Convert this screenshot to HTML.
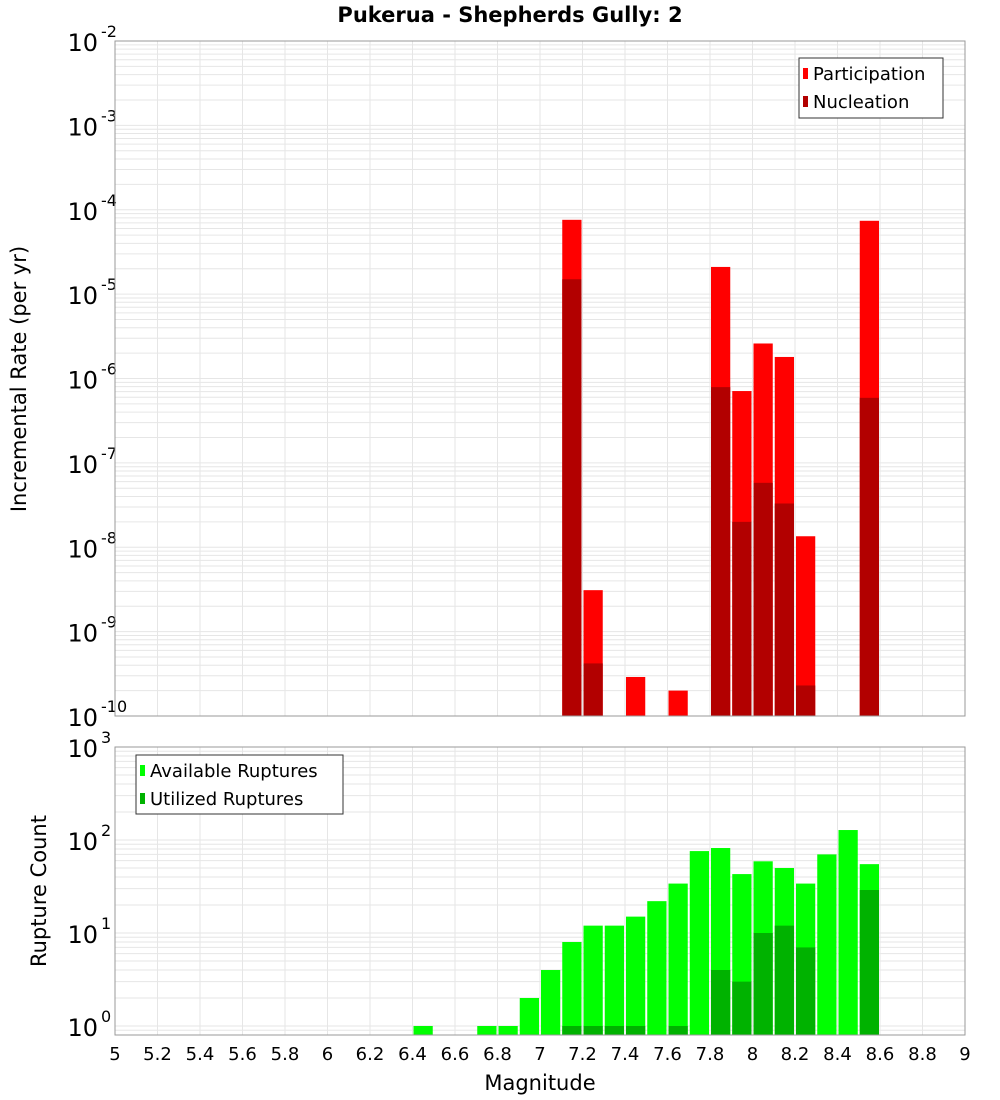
<!DOCTYPE html>
<html><head><meta charset="utf-8"><style>
body{margin:0;background:#fff;}
svg{display:block;font-family:"Liberation Sans","DejaVu Sans",sans-serif;}
</style></head><body>
<svg id="chart" width="1000" height="1100" xmlns="http://www.w3.org/2000/svg">
<rect width="1000" height="1100" fill="#fff"/>
<text x="510" y="22" text-anchor="middle" font-size="21" font-weight="bold" font-family="DejaVu Sans, sans-serif">Pukerua - Shepherds Gully: 2</text>
<g id="top"></g><g id="bot"></g>
</svg>
<script>
const binStarts = [7.1,7.2,7.4,7.6,7.8,7.9,8.0,8.1,8.2,8.5];
const participation = [7.6e-5,3.1e-9,2.9e-10,2.0e-10,2.1e-5,7.1e-7,2.6e-6,1.8e-6,1.35e-8,7.4e-5];
const nucleation = [1.5e-5,4.2e-10,0,0,7.9e-7,2.0e-8,5.8e-8,3.3e-8,2.3e-10,5.9e-7];
const countBins = [6.4,6.7,6.8,6.9,7.0,7.1,7.2,7.3,7.4,7.5,7.6,7.7,7.8,7.9,8.0,8.1,8.2,8.3,8.4,8.5];
const available = [1,1,1,2,4,8,12,12,15,22,34,76,82,43,59,50,34,70,128,55];
const utilized = [0,0,0,0,0,1,1,1,1,0,1,0,4,3,10,12,7,0,0,29];
const xTicks = [5,5.2,5.4,5.6,5.8,6,6.2,6.4,6.6,6.8,7,7.2,7.4,7.6,7.8,8,8.2,8.4,8.6,8.8,9];
const topExps = [-10,-9,-8,-7,-6,-5,-4,-3,-2];
const botExps = [0,1,2,3];

const NS="http://www.w3.org/2000/svg";
const X0=115,X1=965;
const xs=m=>X0+(m-5)/4*(X1-X0);
const topY=v=>716-(Math.log10(v)+10)*84.375;
const botY=v=>1026-Math.log10(v)*93;
function mk(p,tag,at){const e=document.createElementNS(NS,tag);for(const k in at)e.setAttribute(k,at[k]);p.appendChild(e);return e;}
const svg=document.getElementById('chart');

function panel(g,yTop,yBot,yFn,lo,hi,exps){
  mk(g,'rect',{x:X0,y:yTop,width:X1-X0,height:yBot-yTop,fill:'#fff'});
  for(let d=lo;d<hi;d++)for(let k=1;k<10;k++){const y=yFn(k*Math.pow(10,d));if(y<yTop||y>yBot)continue;
    const l=mk(g,'line',{x1:X0,x2:X1,y1:y,y2:y,stroke:'#e6e6e6','stroke-width':1});
    
    }
  xTicks.forEach(t=>{const l=mk(g,'line',{x1:xs(t),x2:xs(t),y1:yTop,y2:yBot,stroke:'#e6e6e6','stroke-width':1});
    
    });
  exps.forEach(e=>{const y=yFn(Math.pow(10,e));
    const t=mk(g,'text',{x:98,y:y+10,'text-anchor':'end','font-size':24,fill:'#000','font-family':'DejaVu Sans, sans-serif'});
    t.textContent='10';
    
    
    const s=mk(g,'text',{x:101,y:y-4,'font-size':16,fill:'#000','font-family':'DejaVu Sans, sans-serif'});s.textContent=String(e);
    
    });
}
const gt=document.getElementById('top'),gb=document.getElementById('bot');
panel(gt,41,716,topY,-10,-2,topExps);
panel(gb,747,1035,botY,-1,3,botExps);
const bw=xs(5.1)-xs(5);
binStarts.forEach((m,i)=>{
  const y=topY(participation[i]);
  const r=mk(gt,'rect',{x:xs(m)+1,y:y,width:bw-2,height:716-y,fill:'#ff0000'});
  
  
  if(nucleation[i]>0){const y2=Math.max(topY(nucleation[i]),41);
    const n=mk(gt,'rect',{x:xs(m)+1,y:y2,width:bw-2,height:716-y2,fill:'#b20000'});
    
    }
});
countBins.forEach((m,i)=>{
  const y=botY(available[i]);
  const r=mk(gb,'rect',{x:xs(m)+1,y:y,width:bw-2,height:1035-y,fill:'#00ff00'});
  
  
  if(utilized[i]>0){const y2=botY(utilized[i]);
    const n=mk(gb,'rect',{x:xs(m)+1,y:y2,width:bw-2,height:1035-y2,fill:'#00b200'});
    
    }
});
[[41,716],[747,1035]].forEach(([a,b])=>{const f=mk(svg,'rect',{x:X0,y:a,width:X1-X0,height:b-a,fill:'none',stroke:'#999','stroke-width':1});
  
  });
xTicks.forEach(t=>{const tx=mk(svg,'text',{x:xs(t),y:1060,'text-anchor':'middle','font-size':18,'font-family':'DejaVu Sans, sans-serif'});
  tx.textContent=String(t);
  
  });
</script>
<svg style="position:absolute;left:0;top:0" width="1000" height="1100">
<g font-family="DejaVu Sans, sans-serif">
<text x="540" y="1090" text-anchor="middle" font-size="21">Magnitude</text>
<text transform="translate(26,379) rotate(-90)" text-anchor="middle" font-size="21">Incremental Rate (per yr)</text>
<text transform="translate(46,891) rotate(-90)" text-anchor="middle" font-size="21">Rupture Count</text>
<g>
<rect x="799" y="58" width="144" height="60" fill="#fff" stroke="#333"/>
<rect x="803" y="68" width="5" height="11" fill="#ff0000"/>
<text x="813" y="80" font-size="18">Participation</text>
<rect x="803" y="96" width="5" height="11" fill="#b20000"/>
<text x="813" y="108" font-size="18">Nucleation</text>
</g>
<g>
<rect x="136" y="755" width="207" height="59" fill="#fff" stroke="#333"/>
<rect x="140" y="765" width="5" height="11" fill="#00ff00"/>
<text x="150" y="777" font-size="18">Available Ruptures</text>
<rect x="140" y="793" width="5" height="11" fill="#00b200"/>
<text x="150" y="805" font-size="18">Utilized Ruptures</text>
</g>
</g>
</svg>
</body></html>
